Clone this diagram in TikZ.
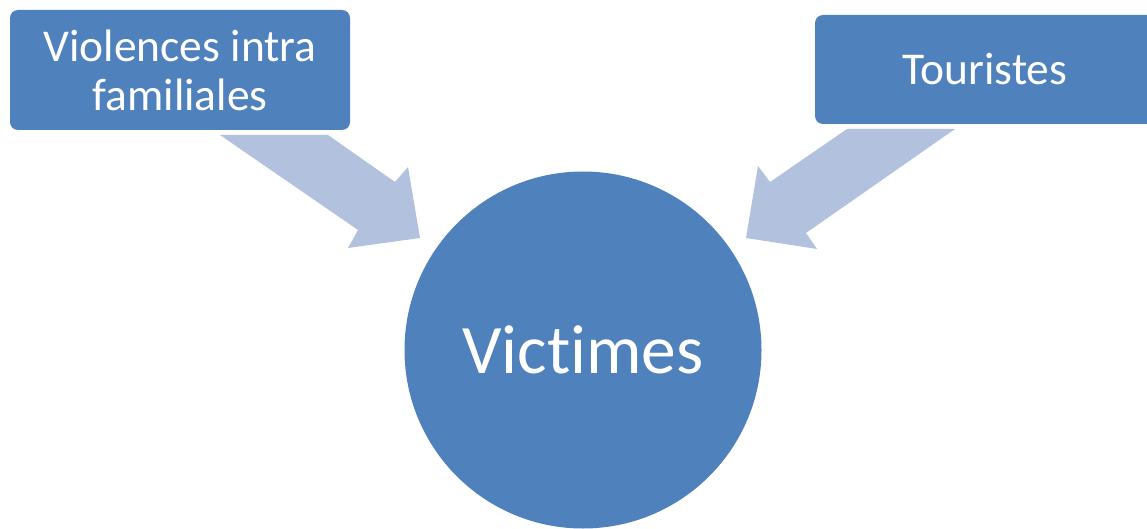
\documentclass[tikz,border=0pt]{standalone}
\usepackage{fontspec}
\setmainfont{Carlito}[RawFeature={-liga}]
\definecolor{boxblue}{HTML}{4F81BD}
\definecolor{arrowblue}{HTML}{B2C2DE}
\begin{document}
\begin{tikzpicture}[x=1pt,y=-1pt,
  srcbox/.style={fill=boxblue, draw=none, rounded corners=8pt, text=white,
    align=center, inner sep=0pt, font=\fontsize{45.5}{49}\selectfont},
  bigarrow/.style={fill=arrowblue, draw=none}]
\useasboundingbox (0,0) rectangle (1147,529);
\clip (0,0) rectangle (1147,529);
\node[srcbox, minimum width=340pt, minimum height=120pt] (viol) at (180,70) {Violences intra\\familiales};
\node[srcbox, minimum width=340pt, minimum height=109pt] (tour) at (985,69.5) {Touristes};
\node[circle, fill=boxblue, draw=none, minimum size=357pt, inner sep=0pt, text=white,
  font=\fontsize{69.5}{80}\selectfont] (vict) at (583,350) {Victimes};
\fill[bigarrow] (220,135) -- (328,135) -- (395,182) -- (408,167) -- (420,238) -- (348,248) -- (358,230) -- cycle;
\fill[bigarrow] (955,129) -- (806,233) -- (817,249) -- (746,238) -- (758,166) -- (770,182) -- (847,129) -- cycle;
\end{tikzpicture}
\end{document}
